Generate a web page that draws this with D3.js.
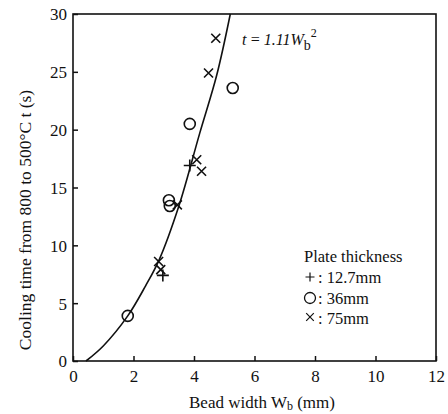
<!DOCTYPE html>
<html>
<head>
<meta charset="utf-8">
<script src="https://cdn.jsdelivr.net/npm/d3@7"></script>
<style>
  body { margin: 0; background: #fff; }
  svg text { font-family: "Liberation Serif", "DejaVu Serif", serif; fill: #111; }
</style>
</head>
<body>
<div id="chart"></div>
<script>
// data
var xTicks = [0, 2, 4, 6, 8, 10, 12];
var yTicks = [0, 5, 10, 15, 20, 25, 30];

// fitted curve t = 1.11 Wb^2 as drawn
var curveW = [0.43, 1.0, 1.81, 2.4, 2.84, 3.5, 4.19, 4.75, 5.2];
var curveT = [0, 1.3, 3.9, 6.5, 8.7, 13.4, 19.7, 24.7, 30];

// plate thickness 12.7mm (+)
var plusW = [2.97, 3.86];
var plusT = [7.4, 16.9];
// plate thickness 36mm (o)
var circW = [1.81, 3.17, 3.2, 3.86, 5.28];
var circT = [3.9, 13.9, 13.4, 20.5, 23.6];
// plate thickness 75mm (x)
var crossW = [2.83, 2.9, 3.45, 4.09, 4.25, 4.48, 4.72];
var crossT = [8.6, 7.9, 13.5, 17.4, 16.4, 24.9, 27.9];

var legendLabels = ["12.7mm", "36mm", "75mm"];

var width = 448, height = 414;
var margin = {top: 14, right: 12, bottom: 53, left: 73};
var serif = '"Liberation Serif", "DejaVu Serif", serif';

var svg = d3.select("#chart").append("svg")
    .attr("width", width).attr("height", height);

var x = d3.scaleLinear().domain([0, 12]).range([margin.left, width - margin.right]);
var y = d3.scaleLinear().domain([0, 30]).range([height - margin.bottom, margin.top]);

// frame
svg.append("rect")
    .attr("x", x(0)).attr("y", y(30))
    .attr("width", x(12) - x(0)).attr("height", y(0) - y(30))
    .attr("fill", "none").attr("stroke", "#111").attr("stroke-width", 1.6);

// x axis, ticks pointing in
var xaxis = d3.axisBottom(x).tickValues(xTicks).tickSizeInner(-5).tickSizeOuter(0);
var gx = svg.append("g")
    .attr("transform", "translate(0," + y(0) + ")")
    .call(xaxis);
gx.select(".domain").remove();
gx.selectAll("line").attr("stroke", "#111").attr("stroke-width", 1.5);
gx.selectAll("text").attr("y", 21).attr("dy", 0).attr("fill", "#111")
    .style("font-family", serif).style("font-size", "17px");

// y axis
var yaxis = d3.axisLeft(y).tickValues(yTicks).tickSizeInner(-5).tickSizeOuter(0);
var gy = svg.append("g")
    .attr("transform", "translate(" + x(0) + ",0)")
    .call(yaxis);
gy.select(".domain").remove();
gy.selectAll("line").attr("stroke", "#111").attr("stroke-width", 1.5);
gy.selectAll("text").attr("x", -6).attr("dy", "0.35em").attr("fill", "#111")
    .style("font-family", serif).style("font-size", "17px");

// curve
var pts = curveW.map(function(d, i) { return [d, curveT[i]]; });
var line = d3.line()
    .x(function(d) { return x(d[0]); })
    .y(function(d) { return y(d[1]); })
    .curve(d3.curveCatmullRom);
svg.append("path")
    .attr("d", line(pts))
    .attr("fill", "none").attr("stroke", "#111").attr("stroke-width", 1.6);

// markers
function plusPath(cx, cy, s) {
    return "M" + (cx - s) + "," + cy + "H" + (cx + s) + "M" + cx + "," + (cy - s) + "V" + (cy + s);
}
function crossPath(cx, cy, s) {
    return "M" + (cx - s) + "," + (cy - s) + "L" + (cx + s) + "," + (cy + s) +
           "M" + (cx - s) + "," + (cy + s) + "L" + (cx + s) + "," + (cy - s);
}

svg.selectAll(".plus").data(plusW).enter().append("path")
    .attr("class", "plus")
    .attr("d", function(d, i) { return plusPath(x(d), y(plusT[i]), 6); })
    .attr("stroke", "#111").attr("stroke-width", 1.6);

svg.selectAll(".circ").data(circW).enter().append("circle")
    .attr("class", "circ")
    .attr("cx", function(d) { return x(d); })
    .attr("cy", function(d, i) { return y(circT[i]); })
    .attr("r", 5.5)
    .attr("fill", "none").attr("stroke", "#111").attr("stroke-width", 1.6);

svg.selectAll(".cross").data(crossW).enter().append("path")
    .attr("class", "cross")
    .attr("d", function(d, i) { return crossPath(x(d), y(crossT[i]), 4.5); })
    .attr("stroke", "#111").attr("stroke-width", 1.6);

// equation label
var eq = svg.append("text")
    .attr("x", 242).attr("y", 45)
    .style("font-size", "16px").style("font-style", "italic");
eq.append("tspan").text("t\u2009=\u20091.11W");
eq.append("tspan").text("b").attr("dy", 5).style("font-size", "14px").style("font-style", "normal");
eq.append("tspan").text("2").attr("dy", -13).style("font-size", "12px").style("font-style", "normal");

// legend
var lfs = "16.5px";
svg.append("text").attr("x", 304).attr("y", 262).style("font-size", lfs).text("Plate thickness");
svg.append("path").attr("d", plusPath(310, 277, 4.5)).attr("stroke", "#111").attr("stroke-width", 1.2);
svg.append("text").attr("x", 318).attr("y", 283).style("font-size", lfs).text(": " + legendLabels[0]);
svg.append("circle").attr("cx", 310).attr("cy", 298).attr("r", 5.5)
    .attr("fill", "none").attr("stroke", "#111").attr("stroke-width", 1.3);
svg.append("text").attr("x", 318).attr("y", 304).style("font-size", lfs).text(": " + legendLabels[1]);
svg.append("path").attr("d", crossPath(310, 317, 3.8)).attr("stroke", "#111").attr("stroke-width", 1.2);
svg.append("text").attr("x", 318).attr("y", 324).style("font-size", lfs).text(": " + legendLabels[2]);

// axis titles
var xl = svg.append("text")
    .attr("x", 262).attr("y", 408).attr("text-anchor", "middle")
    .style("font-size", "17px");
xl.append("tspan").text("Bead width W");
xl.append("tspan").text("b").attr("dy", 2).style("font-size", "12px");
xl.append("tspan").text(" (mm)").attr("dy", -2);

svg.append("text")
    .attr("transform", "translate(31,220) rotate(-90)")
    .attr("text-anchor", "middle")
    .style("font-size", "17.5px")
    .text("Cooling time from 800 to 500\u00B0C t (s)");
</script>
</body>
</html>
